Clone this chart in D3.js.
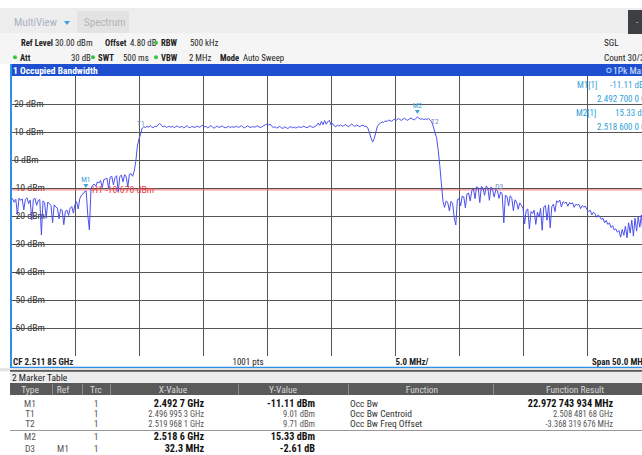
<!DOCTYPE html>
<html><head><meta charset="utf-8">
<script src="https://cdn.jsdelivr.net/npm/d3@7"></script>
<style>
html,body{margin:0;padding:0;background:#fff;}
svg{display:block;font-family:'Liberation Sans Narrow','Roboto Condensed','Liberation Sans',Arial,sans-serif;}
</style></head><body>
<svg id="chart" width="642" height="455"></svg>
<script>
// ---- sweep settings ----
const startMHz = 2486.85;
const spanMHz = 50;
const stepMHz = 0.125;
const refLevelDbm = 30;
const bottomLevelDbm = -70;
const levelTicks = [20, 10, 0, -10, -20, -30, -40, -50, -60];
const freqDivisions = [0, 1, 2, 3, 4, 5, 6, 7, 8, 9, 10];

// ---- trace 1 (1Pk Max), dBm every 0.125 MHz ----
const traceDbm = [
  -14.2,-13.8,-15.1,-14.0,-19.5,-13.6,-14.4,-13.9,-17.8,-14.1,-13.5,-15.6,-14.3,-21.4,-14.0,-13.7,-16.2,-14.5,-14.1,-26.8,
  -14.6,-15.2,-20.8,-15.0,-15.6,-16.3,-22.4,-16.0,-16.8,-17.2,-21.0,-17.6,-18.0,-23.1,-18.3,-17.9,-19.8,-17.2,-16.6,-19.0,
  -15.8,-14.9,-17.5,-13.8,-12.6,-12.1,-11.3,-11.1,-19.8,-25.0,-10.2,-9.0,-8.6,-9.4,-7.8,-8.2,-7.3,-9.9,-7.0,-6.8,
  -6.5,-10.2,-6.1,-5.8,-8.9,-6.3,-5.6,-11.4,-5.9,-5.4,-7.8,-5.2,-6.0,-9.6,-5.1,-4.9,-5.8,-4.0,-0.5,5.0,
  7.6,9.2,11.4,11.9,11.6,12.0,11.7,12.3,11.8,11.5,12.1,11.9,12.6,13.1,12.4,11.8,12.2,11.6,11.9,12.0,
  11.7,12.1,11.5,11.9,12.2,11.6,11.8,12.0,11.4,11.9,12.3,11.7,11.5,12.0,11.8,11.6,12.1,11.9,11.7,12.2,
  12.4,11.8,12.0,11.5,11.9,12.3,11.7,11.4,11.8,12.1,11.6,11.9,12.2,11.7,11.5,11.8,12.0,11.6,11.9,11.7,
  11.8,12.1,11.6,11.9,12.3,11.7,11.5,11.9,12.2,11.8,11.6,12.0,11.7,11.9,12.2,11.8,11.6,11.9,12.3,12.6,
  12.9,12.5,12.8,12.0,11.6,11.9,11.4,11.7,12.0,11.5,11.3,11.8,11.6,11.2,11.7,11.9,11.5,11.8,11.4,11.7,
  11.9,11.6,11.8,12.1,11.7,11.5,11.9,12.2,11.8,11.6,12.0,12.3,13.2,12.4,13.8,12.6,14.1,12.8,13.6,14.2,
  12.5,13.0,12.2,11.9,12.4,12.1,12.6,12.0,12.3,12.7,12.2,11.9,12.4,12.8,12.3,12.0,12.5,12.2,11.9,12.3,
  12.4,12.0,12.1,11.4,9.8,7.9,6.4,7.6,9.9,12.0,12.8,13.2,13.6,13.4,14.0,13.7,14.3,14.0,13.8,14.4,
  14.6,14.2,14.8,14.5,14.1,14.6,14.9,14.4,14.2,14.7,15.0,14.6,14.3,14.8,15.33,14.9,14.5,14.8,14.4,14.7,
  14.5,14.8,14.3,13.6,11.8,9.7,8.0,3.5,-2.0,-8.5,-14.8,-16.9,-14.6,-15.3,-18.2,-14.8,-15.5,-20.6,-23.2,-14.1,
  -13.8,-16.4,-12.9,-13.2,-17.1,-12.1,-11.8,-14.6,-11.0,-10.2,-13.8,-9.6,-9.9,-15.2,-9.4,-10.1,-12.6,-9.3,-9.8,-14.4,
  -9.6,-10.8,-13.2,-10.5,-11.0,-13.7,-11.4,-12.1,-22.4,-12.6,-13.0,-16.4,-12.8,-13.7,-18.1,-14.2,-15.0,-17.6,-15.3,-16.2,
  -17.2,-22.8,-18.0,-17.5,-24.6,-18.4,-19.1,-17.9,-23.0,-18.6,-20.4,-17.3,-25.1,-16.8,-16.2,-21.5,-16.0,-24.2,-16.6,-15.8,
  -18.4,-14.6,-15.1,-14.3,-16.8,-14.9,-15.4,-15.0,-16.5,-15.2,-15.7,-15.3,-16.9,-15.8,-16.1,-15.9,-17.4,-16.3,-16.8,-16.5,
  -17.8,-18.4,-17.9,-19.6,-18.6,-19.2,-20.5,-19.6,-20.3,-21.2,-20.8,-22.4,-21.6,-23.0,-22.5,-24.1,-23.4,-25.0,-24.6,-25.8,
  -25.2,-27.6,-24.8,-26.9,-23.6,-27.8,-22.4,-26.1,-21.5,-27.2,-20.8,-25.4,-20.2,-24.0,-19.6,-26.5,-19.4,-22.8,-19.9,-21.7,
  -20.3
];

// ---- markers ----
const markerNames = ["M1", "M2"];
const markerFreqMHz = [2492.7, 2518.6];
const markerDbm = [-11.11, 15.33];
const tempNames = ["T1", "T2", "D3"];
const tempFreqMHz = [2496.9953, 2519.9681, 2525.0];
const tempDbm = [9.01, 9.71, -13.72];
const lineH1Dbm = -10.67;

// ---- marker table ----
const tableHeaders = ["Type", "Ref", "Trc", "X-Value", "Y-Value", "Function", "Function Result"];
const rowType = ["M1", "T1", "T2", "M2", "D3"];
const rowRef = ["", "", "", "", "M1"];
const rowTrc = ["1", "1", "1", "1", "1"];
const rowX = ["2.492 7 GHz", "2.496 995 3 GHz", "2.519 968 1 GHz", "2.518 6 GHz", "32.3 MHz"];
const rowY = ["-11.11 dBm", "9.01 dBm", "9.71 dBm", "15.33 dBm", "-2.61 dB"];
const rowFn = ["Occ Bw", "Occ Bw Centroid", "Occ Bw Freq Offset", "", ""];
const rowResult = ["22.972 743 934 MHz", "2.508 481 68 GHz", "-3.368 319 676 MHz", "", ""];

const svg = d3.select("#chart");
const P = { l: 11, r: 651, t: 76, b: 356 };

const x = d3.scaleLinear().domain([startMHz, startMHz + spanMHz]).range([P.l, P.r]);
const y = d3.scaleLinear().domain([bottomLevelDbm, refLevelDbm]).range([P.b, P.t]);

// ---------- instrument header ----------
svg.append("rect").attr("x", 0).attr("y", 8).attr("width", 642).attr("height", 56).attr("fill", "#f5f5f5");
svg.append("rect").attr("x", 0).attr("y", 8).attr("width", 642).attr("height", 25).attr("fill", "#ededed");
svg.append("rect").attr("x", 77).attr("y", 11).attr("width", 52).attr("height", 22).attr("fill", "#e3e3e3");
svg.append("text").attr("x", 14).attr("y", 26).attr("font-size", 11).attr("fill", "#aab2c2").text("MultiView");
svg.append("path").attr("d", "M64,21 l6,0 l-3,4 z").attr("fill", "#3aa0e6");
svg.append("text").attr("x", 84).attr("y", 26).attr("font-size", 11).attr("fill", "#b4b4b4").text("Spectrum");
svg.append("rect").attr("x", 628).attr("y", 10).attr("width", 14).attr("height", 24).attr("fill", "#3d4043");
svg.append("text").attr("x", 636).attr("y", 25).attr("font-size", 9).attr("fill", "#bbb").text("-");

const info = svg.append("g").attr("fill", "#222");
function infoItem(px, py, label, value, vx, dot) {
  if (dot) info.append("circle").attr("cx", px - 5).attr("cy", py - 3.2).attr("r", 2).attr("fill", "#3cc43c");
  info.append("text").attr("x", px).attr("y", py).attr("font-size", 8.6).attr("font-weight", "bold").text(label);
  info.append("text").attr("x", vx).attr("y", py).attr("font-size", 8.8).text(value);
}
infoItem(21, 46, "Ref Level", "30.00 dBm", 55, false);
infoItem(105, 46, "Offset", "4.80 dB", 130, false);
infoItem(161, 46, "RBW", "500 kHz", 190, true);
infoItem(20, 60.5, "Att", "30 dB", 71, true);
infoItem(98, 60.5, "SWT", "500 ms", 123, true);
infoItem(161, 60.5, "VBW", "2 MHz", 189, true);
infoItem(220, 60.5, "Mode", "Auto Sweep", 243, false);
info.append("text").attr("x", 604).attr("y", 46).attr("font-size", 9.2).text("SGL");
info.append("text").attr("x", 604).attr("y", 60.5).attr("font-size", 9.2).text("Count 30/30");

// ---------- window 1 title bar ----------
svg.append("rect").attr("x", P.l).attr("y", 64).attr("width", 642 - P.l).attr("height", 12.5).attr("fill", "#1e4fd0");
svg.append("text").attr("x", 13).attr("y", 74).attr("font-size", 9.5).attr("font-weight", "bold").attr("fill", "#fff").text("1 Occupied Bandwidth");
svg.append("circle").attr("cx", 609).attr("cy", 70.3).attr("r", 2.2).attr("fill", "#1e4fd0").attr("stroke", "#8fc4ff").attr("stroke-width", 1.2);
svg.append("text").attr("x", 613).attr("y", 74).attr("font-size", 9.5).attr("fill", "#dfe9ff").text("1Pk Max");

// ---------- plot area ----------
svg.append("rect").attr("x", P.l).attr("y", P.t).attr("width", P.r - P.l).attr("height", P.b - P.t).attr("fill", "#fff");

const grid = svg.append("g").attr("stroke", "#555").attr("stroke-width", 1);
grid.selectAll("line.v").data(freqDivisions).join("line")
  .attr("x1", d => Math.round(x(startMHz + d * spanMHz / 10)) + 0.5)
  .attr("x2", d => Math.round(x(startMHz + d * spanMHz / 10)) + 0.5)
  .attr("y1", P.t).attr("y2", P.b);
grid.selectAll("line.h").data(levelTicks).join("line")
  .attr("x1", P.l).attr("x2", P.r)
  .attr("y1", d => Math.round(y(d)) + 0.5).attr("y2", d => Math.round(y(d)) + 0.5);

svg.append("g").attr("font-size", 9.8).attr("fill", "#333")
  .selectAll("text").data(levelTicks).join("text")
  .attr("x", d => d < 0 ? 13 : 14)
  .attr("y", d => y(d) + 3.4)
  .text(d => d + " dBm");

// H1 display line
svg.append("line").attr("x1", P.l).attr("x2", P.r).attr("y1", y(lineH1Dbm)).attr("y2", y(lineH1Dbm))
  .attr("stroke", "#f07070").attr("stroke-width", 1);
svg.append("text").attr("x", 92).attr("y", y(lineH1Dbm) + 3.5).attr("font-size", 9.8).attr("fill", "#ee3b3b")
  .text("H1 -10.670 dBm");

// trace
svg.append("clipPath").attr("id", "plotClip").append("rect")
  .attr("x", P.l).attr("y", P.t).attr("width", P.r - P.l).attr("height", P.b - P.t);
const line = d3.line().x((d, i) => x(startMHz + i * stepMHz)).y(d => y(d));
svg.append("path").attr("clip-path", "url(#plotClip)").attr("d", line(traceDbm))
  .attr("fill", "none").attr("stroke", "#4c50ee").attr("stroke-width", 1);

// markers
const mk = svg.append("g").attr("font-size", 7.5).attr("fill", "#3da2d8");
markerNames.forEach((n, i) => {
  const mx = x(markerFreqMHz[i]), my = y(markerDbm[i]);
  mk.append("path").attr("d", `M${mx - 2.5},${my - 7} l5,0 l-2.5,4 z`);
  mk.append("text").attr("x", mx).attr("y", my - 9).attr("text-anchor", "middle").text(n);
});
tempNames.forEach((n, i) => {
  const mx = x(tempFreqMHz[i]), my = y(tempDbm[i]);
  mk.append("text").attr("x", mx).attr("y", my - 9).attr("text-anchor", "middle").attr("fill", "#6b8cc4").text(n);
});

// marker readout
const ro = svg.append("g").attr("font-size", 9).attr("fill", "#2fa0d8");
ro.append("text").attr("x", 577).attr("y", 88).text("M1[1]");
ro.append("text").attr("x", 610).attr("y", 88).text("-11.11 dBm");
ro.append("text").attr("x", 597).attr("y", 102).text("2.492 700 0 GHz");
ro.append("text").attr("x", 576).attr("y", 116).text("M2[1]");
ro.append("text").attr("x", 615).attr("y", 116).text("15.33 dBm");
ro.append("text").attr("x", 597).attr("y", 130).text("2.518 600 0 GHz");

// footer of window 1
svg.append("rect").attr("x", P.l).attr("y", P.b).attr("width", 642 - P.l).attr("height", 11).attr("fill", "#fff");
const foot = svg.append("g").attr("font-size", 9).attr("fill", "#222").attr("font-weight", "bold");
foot.append("text").attr("x", 13).attr("y", 365).text("CF 2.511 85 GHz");
foot.append("text").attr("x", 248).attr("y", 365).attr("text-anchor", "middle").attr("font-weight", "normal").text("1001 pts");
foot.append("text").attr("x", 412).attr("y", 365).attr("text-anchor", "middle").text("5.0 MHz/");
foot.append("text").attr("x", 592).attr("y", 365).text("Span 50.0 MHz");
svg.append("line").attr("x1", P.l).attr("x2", 642).attr("y1", 367.5).attr("y2", 367.5).attr("stroke", "#2f8ee8").attr("stroke-width", 1.5);
svg.append("line").attr("x1", P.l).attr("x2", P.l).attr("y1", 64).attr("y2", 368).attr("stroke", "#2f8ee8").attr("stroke-width", 2);

// ---------- marker table window ----------
svg.append("rect").attr("x", 0).attr("y", 368.3).attr("width", 642).attr("height", 3).attr("fill", "#e2e2e2");
svg.append("line").attr("x1", 10).attr("x2", 642).attr("y1", 371).attr("y2", 371).attr("stroke", "#2a2a2a").attr("stroke-width", 1.5);
svg.append("rect").attr("x", 10).attr("y", 371.8).attr("width", 632).attr("height", 11).attr("fill", "#ececec");
svg.append("text").attr("x", 12).attr("y", 380.5).attr("font-size", 9.5).attr("fill", "#222").text("2 Marker Table");
svg.append("rect").attr("x", 10).attr("y", 383).attr("width", 632).attr("height", 12).attr("fill", "#5a5a5a");

const colCenters = [30, 63, 96, 173, 283, 422, 575];
const colSeps = [52, 82, 110, 238, 348, 493];
svg.append("g").attr("stroke", "#8a8a8a").selectAll("line").data(colSeps).join("line")
  .attr("x1", d => d + 0.5).attr("x2", d => d + 0.5).attr("y1", 384).attr("y2", 395);
svg.append("g").attr("font-size", 9.5).attr("fill", "#d8d8d8").selectAll("text").data(tableHeaders).join("text")
  .attr("x", (d, i) => colCenters[i]).attr("y", 392.5).attr("text-anchor", "middle").text(d => d);

const rowBase = [406.5, 416.5, 426.5, 440, 452];
const tbl = svg.append("g");
rowType.forEach((t, i) => {
  const strong = t[0] !== "T";
  const fs = strong ? 10.2 : 8.5;
  const col = strong ? "#111" : "#555";
  const yb = rowBase[i];
  tbl.append("text").attr("x", 30).attr("y", yb).attr("text-anchor", "middle").attr("font-size", 9.5).attr("fill", "#555").text(t);
  tbl.append("text").attr("x", 63).attr("y", yb).attr("text-anchor", "middle").attr("font-size", 9.5).attr("fill", "#555").text(rowRef[i]);
  tbl.append("text").attr("x", 96).attr("y", yb).attr("text-anchor", "middle").attr("font-size", 9.5).attr("fill", "#555").text(rowTrc[i]);
  tbl.append("text").attr("x", 204).attr("y", yb).attr("text-anchor", "end").attr("font-size", fs)
    .attr("font-weight", strong ? "bold" : "normal").attr("fill", col).text(rowX[i]);
  tbl.append("text").attr("x", 315).attr("y", yb).attr("text-anchor", "end").attr("font-size", fs)
    .attr("font-weight", strong ? "bold" : "normal").attr("fill", col).text(rowY[i]);
  tbl.append("text").attr("x", 350).attr("y", yb).attr("font-size", 9.5).attr("fill", "#333").text(rowFn[i]);
  tbl.append("text").attr("x", 613).attr("y", yb).attr("text-anchor", "end")
    .attr("font-size", i === 0 ? 10.2 : 8.5).attr("font-weight", i === 0 ? "bold" : "normal")
    .attr("fill", i === 0 ? "#111" : "#555").text(rowResult[i]);
});
svg.append("line").attr("x1", 10).attr("x2", 642).attr("y1", 430.5).attr("y2", 430.5).attr("stroke", "#999");
</script>
</body></html>
